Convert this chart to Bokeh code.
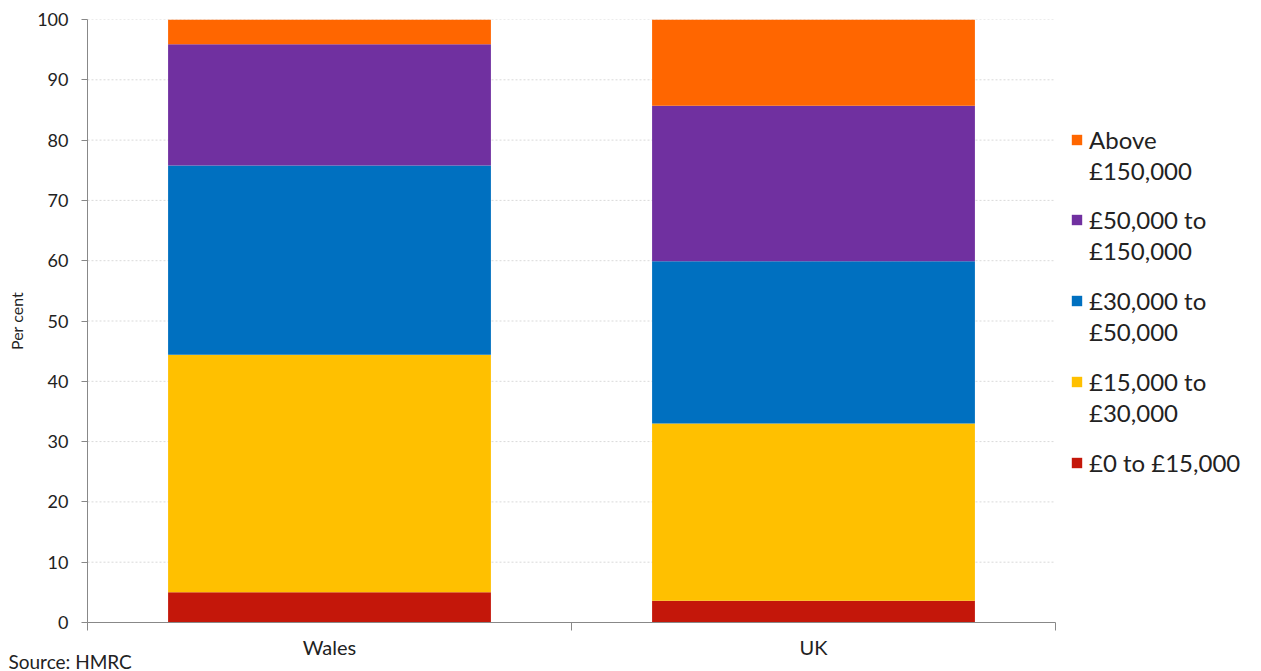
from bokeh.plotting import figure
from bokeh.models import Range1d, FixedTicker, Legend, LegendItem, Title
from bokeh.embed import file_html
from bokeh.resources import INLINE

categories = ["Wales", "UK"]
band_lines = [["£0 to £15,000"], ["£15,000 to", "£30,000"], ["£30,000 to", "£50,000"],
              ["£50,000 to", "£150,000"], ["Above", "£150,000"]]
band_0_15k = [5.0, 3.6]
band_15_30k = [39.4, 29.4]
band_30_50k = [31.4, 26.9]
band_50_150k = [20.1, 25.8]
band_above_150k = [4.1, 14.3]
colors = ["#C4170A", "#FFC000", "#0070C0", "#7030A0", "#FF6600"]
y_ticks = [0, 10, 20, 30, 40, 50, 60, 70, 80, 90, 100]

FONT = "Lato"
TXT = "#222222"
W, H = 1261, 671
LEFT, TOP, PLOT_RIGHT, BOTTOM_Y = 87, 19, 1055, 622
n = len(categories)
xs = [i + 0.5 for i in range(n)]
data = {"x": xs, "b0": band_0_15k, "b1": band_15_30k, "b2": band_30_50k,
        "b3": band_50_150k, "b4": band_above_150k}
keys = ["b0", "b1", "b2", "b3", "b4"]

# frame extends to the right edge so the legend sits inside it
x_end = n * (W - LEFT) / (PLOT_RIGHT - LEFT)
p = figure(width=W, height=H, output_backend="svg", toolbar_location=None,
           x_range=Range1d(0, x_end), y_range=Range1d(0, 100),
           min_border_left=LEFT, min_border_top=TOP, min_border_right=0,
           min_border_bottom=H - BOTTOM_Y)

# horizontal dashed grid only across the bar area
p.segment(x0=[0] * len(y_ticks), x1=[n] * len(y_ticks), y0=y_ticks, y1=y_ticks,
          line_color="#d9d9d9", line_dash="2 2", line_width=1)

renderers = p.vbar_stack(keys, x="x", width=0.667, color=colors, source=data,
                         line_color=None)
blank = p.rect(x=[], y=[], width=0, height=0, fill_alpha=0, line_alpha=0)

frame_h = BOTTOM_Y - TOP
first_line_y = [462, 381, 300, 219, 139]  # screen y of first text line
LH, SP = 30, 1
for i in range(len(keys)):
    lines = band_lines[i]
    its = [LegendItem(label=lines[0], renderers=[renderers[i]])]
    for extra in lines[1:]:
        its.append(LegendItem(label=extra, renderers=[blank]))
    h = LH * len(lines) + SP * (len(lines) - 1)
    top = first_line_y[i] - LH / 2 - TOP
    lg = Legend(items=its, location=(1070 - LEFT, frame_h - (top + h)),
                border_line_color=None, background_fill_alpha=0,
                label_text_font=FONT, label_text_font_size="24px",
                label_text_color=TXT, glyph_width=13, glyph_height=13,
                label_standoff=6, spacing=SP, padding=0, margin=0,
                label_height=LH)
    p.add_layout(lg)

p.xaxis.ticker = FixedTicker(ticks=xs, minor_ticks=list(range(n + 1)))
p.xaxis.bounds = (0, n)
p.xaxis.major_label_overrides = {x: c for x, c in zip(xs, categories)}
p.xaxis.major_tick_out = 0
p.xaxis.major_tick_in = 0
p.xaxis.minor_tick_out = 8
p.xaxis.minor_tick_in = 0
p.xaxis.major_label_text_font = FONT
p.xaxis.major_label_text_font_size = "20px"
p.xaxis.major_label_text_color = TXT
p.xaxis.major_label_standoff = 4

p.yaxis.ticker = FixedTicker(ticks=y_ticks)
p.yaxis.major_tick_out = 6
p.yaxis.major_tick_in = 0
p.yaxis.major_label_text_font = FONT
p.yaxis.major_label_text_font_size = "18px"
p.yaxis.major_label_text_color = TXT
p.yaxis.major_label_standoff = 13
p.yaxis.axis_label = "Per cent"
p.yaxis.axis_label_text_font = FONT
p.yaxis.axis_label_text_font_style = "normal"
p.yaxis.axis_label_text_font_size = "16px"
p.yaxis.axis_label_text_color = TXT
p.yaxis.axis_label_standoff = 8

for ax in (p.xaxis, p.yaxis):
    ax.axis_line_color = "#888888"
    ax.major_tick_line_color = "#888888"
    ax.minor_tick_line_color = "#888888"
p.yaxis.minor_tick_line_color = None

p.xgrid.grid_line_color = None
p.ygrid.grid_line_color = None
p.outline_line_color = None

src = Title(text="Source: HMRC", align="left", offset=8 - LEFT, standoff=-24,
            vertical_align="top",
            text_font=FONT, text_font_size="19px", text_font_style="normal",
            text_color=TXT)
p.add_layout(src, "below")

open("out.html", "w").write(file_html(p, INLINE))
